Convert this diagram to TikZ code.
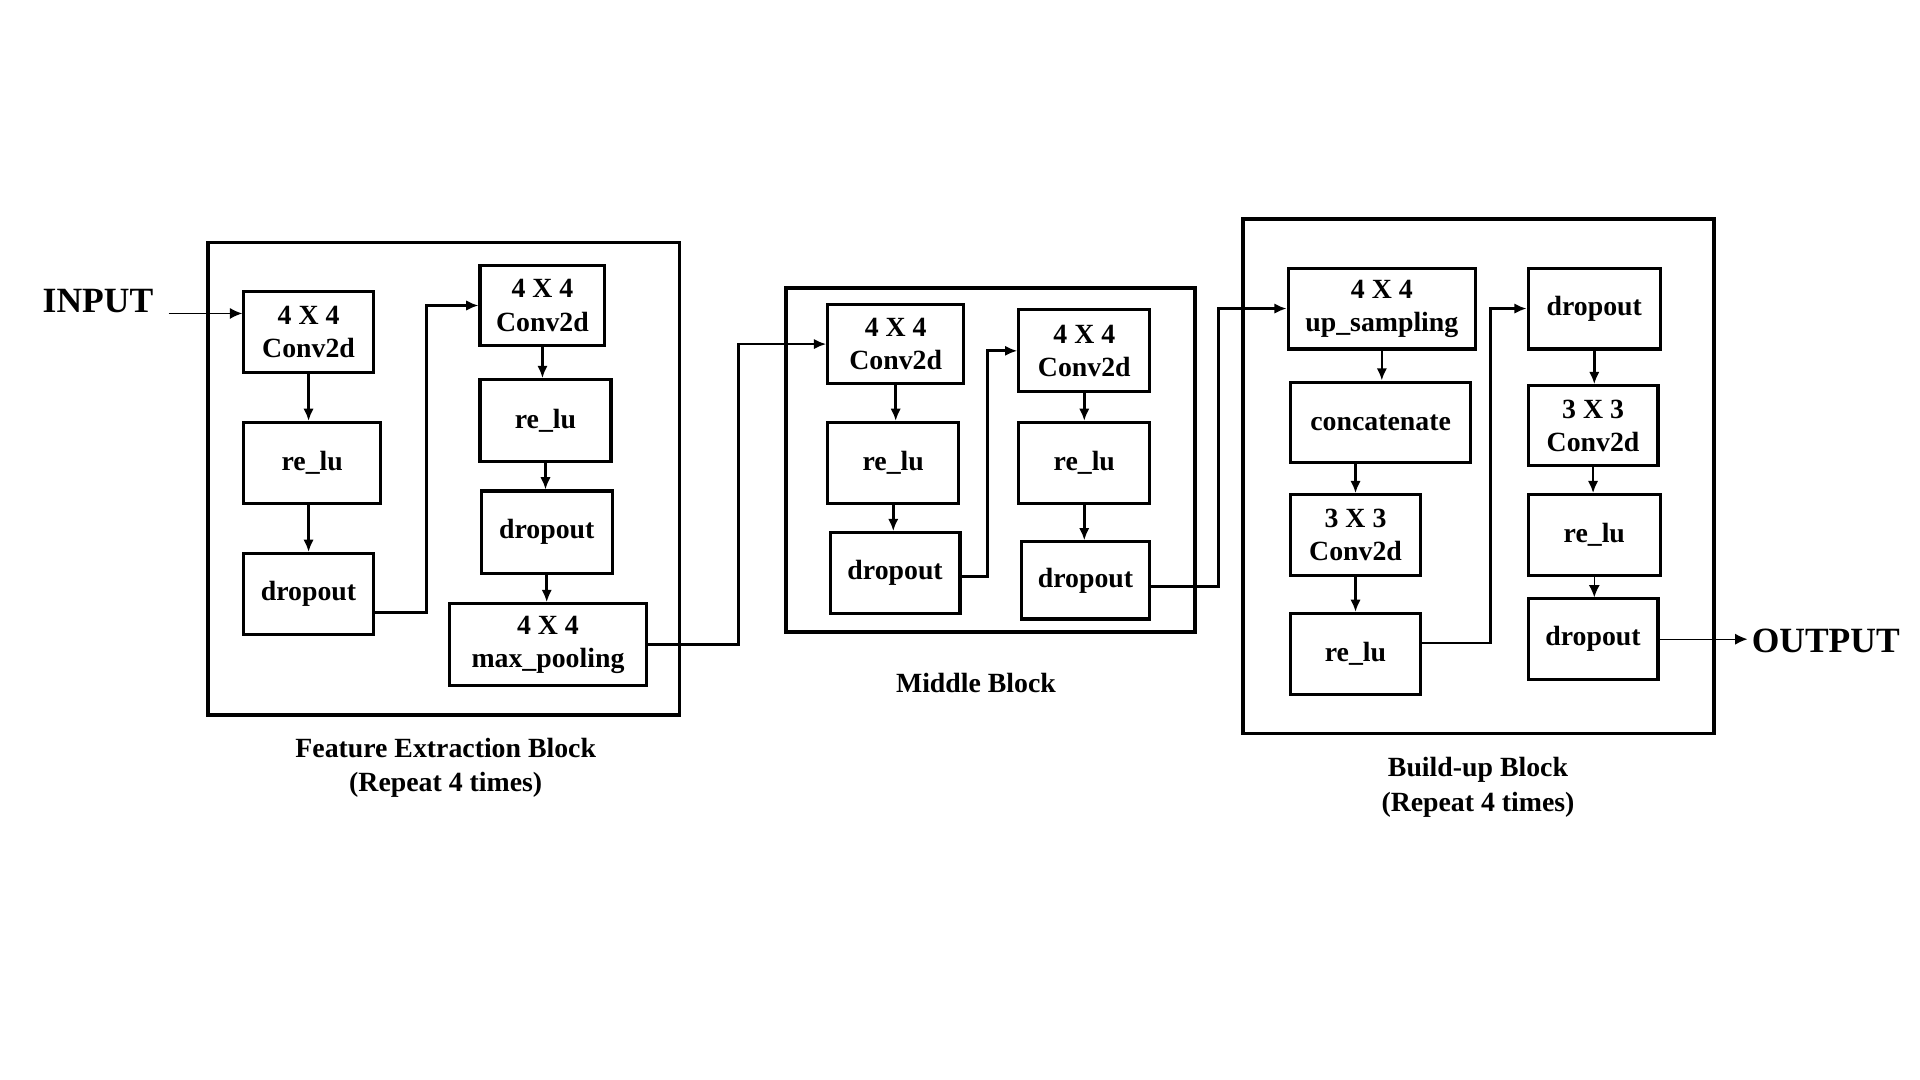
\documentclass[tikz,border=0pt]{standalone}
\usepackage{fontspec}
\setmainfont{Liberation Serif}
\usepackage{tikz}
\usetikzlibrary{arrows.meta}

\begin{document}
\begin{tikzpicture}[x=1pt,y=-1pt,
    layer/.style={draw,line width=2.5pt,minimum width=106pt,minimum height=66pt,inner sep=0pt,align=center,
        font=\fontsize{22.7pt}{27pt}\selectfont\bfseries},
    group/.style={draw,line width=3pt},
    link/.style={line width=2.2pt,-{Latex[length=10pt,width=8.5pt]}},
    thin link/.style={line width=1pt,-{Latex[length=10pt,width=9pt]}},
    caption/.style={align=center,font=\fontsize{22.7pt}{28pt}\selectfont\bfseries},
    io/.style={font=\fontsize{29pt}{34pt}\selectfont\bfseries}]
\useasboundingbox (0,0) rectangle (1568,882);

% feature extraction block
\draw[group] (170,198) rectangle (555,584);
\node[layer] at (252,271) (a1) {4 X 4\\Conv2d};
\node[layer,minimum width=112pt] at (255,378) (a2) {re\_lu};
\node[layer] at (252,485) (a3) {dropout};
\node[layer,minimum width=102pt,minimum height=65pt] at (443,249.5) (b1) {4 X 4\\Conv2d};
\node[layer,minimum width=107pt,minimum height=67pt] at (445.5,343.5) (b2) {re\_lu};
\node[layer,minimum width=107pt,minimum height=67pt] at (446.5,434.5) (b3) {dropout};
\node[layer,minimum width=161pt,minimum height=67pt] at (447.5,526.5) (b4) {4 X 4\\max\_pooling};
\node[caption] at (364,627) (fe) {Feature Extraction Block\\(Repeat 4 times)};

% middle block
\draw[group] (642,235) rectangle (976,516);
\node[layer,minimum width=111pt,minimum height=64pt] at (731.5,281) (m1) {4 X 4\\Conv2d};
\node[layer,minimum width=107pt] at (729.5,378) (m2) {re\_lu};
\node[layer] at (731,468) (m3) {dropout};
\node[layer,minimum width=107pt,minimum height=67pt] at (885.5,286.5) (m4) {4 X 4\\Conv2d};
\node[layer,minimum width=107pt] at (885.5,378) (m5) {re\_lu};
\node[layer,minimum width=105pt,minimum height=63pt] at (886.5,474) (m6) {dropout};
\node[caption] at (797,558) (mb) {Middle Block};

% build-up block
\draw[group] (1015,179) rectangle (1400,599);
\node[layer,minimum width=153pt] at (1128.5,252) (u1) {4 X 4\\up\_sampling};
\node[layer,minimum width=147pt] at (1127.5,345) (u2) {concatenate};
\node[layer] at (1107,437) (u3) {3 X 3\\Conv2d};
\node[layer] at (1107,534) (u4) {re\_lu};
\node[layer,minimum width=108pt] at (1302,252) (u5) {dropout};
\node[layer,minimum height=65pt] at (1301,347.5) (u6) {3 X 3\\Conv2d};
\node[layer,minimum width=108pt] at (1302,437) (u7) {re\_lu};
\node[layer] at (1301,522) (u8) {dropout};
\node[caption] at (1207,643) (bu) {Build-up Block\\(Repeat 4 times)};

% input and output
\node[io] at (80,246) (in) {INPUT};
\node[io] at (1491,523.5) (out) {OUTPUT};
\coordinate (in-end) at ([xshift=9pt,yshift=-10pt]in.east);

\draw[thin link] (in-end) -- (in-end -| a1.west);
\draw[link] (a1.south) -- (a1.south |- a2.north);
\draw[link] (a3.north |- a2.south) -- (a3.north);
\draw[link] ([yshift=-15pt]a3.east) -- ++(42,0) |- (b1.west);
\draw[link] (b1.south) -- (b1.south |- b2.north);
\draw[link] (b2.south) -- (b2.south |- b3.north);
\draw[link] (b3.south) -- (b3.south |- b4.north);
\draw[link] (b4.east) -- ++(74,0) |- (m1.west);
\draw[link] (m1.south) -- (m1.south |- m2.north);
\draw[link] (m2.south) -- (m2.south |- m3.north);
\draw[link] ([yshift=-3pt]m3.east) -- ++(21,0) |- (m4.west);
\draw[link] (m4.south) -- (m4.south |- m5.north);
\draw[link] (m5.south) -- (m5.south |- m6.north);
\draw[link] ([yshift=-5pt]m6.east) -- ++(55,0) |- (u1.west);
\draw[link] (u1.south) -- (u1.south |- u2.north);
\draw[link] (u3.north |- u2.south) -- (u3.north);
\draw[link] (u3.south) -- (u3.south |- u4.north);
\draw[link] ([yshift=9pt]u4.east) -- ++(56,0) |- (u5.west);
\draw[link] (u5.south) -- (u5.south |- u6.north);
\draw[link] (u6.south) -- (u6.south |- u7.north);
\draw[thin link] (u7.south) -- (u7.south |- u8.north);
\draw[thin link] (u8.east) -- (u8.east -| out.west);

\end{tikzpicture}
\end{document}
